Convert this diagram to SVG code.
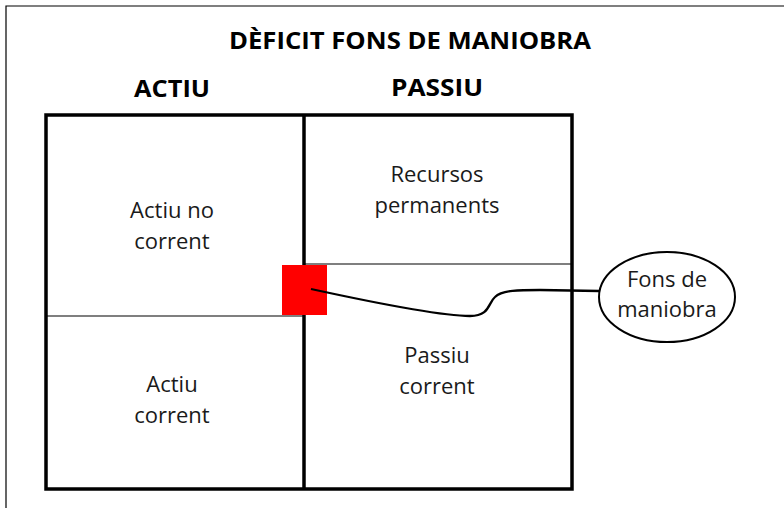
<svg xmlns="http://www.w3.org/2000/svg" width="784" height="508" viewBox="0 0 784 508">
<style>
text{font-family:"Open Sans","Noto Sans","Liberation Sans",sans-serif;fill:#1a1a1a;text-anchor:middle}
.t{font-size:22px}
.h{font-size:23px;font-weight:bold;fill:#000}
.thick{stroke:#000;stroke-width:3.5;fill:none}
.thin{stroke:#000;stroke-width:1.2;fill:none}
</style>
<rect width="784" height="508" fill="#fff"/>
<path d="M6,508 V6 H784" class="thin" stroke-width="2"/>
<g id="title">
<text class="h" x="410" y="49" textLength="362" lengthAdjust="spacingAndGlyphs">DÈFICIT FONS DE MANIOBRA</text>
<text class="h" x="172" y="97" textLength="76" lengthAdjust="spacingAndGlyphs">ACTIU</text>
<text class="h" x="437" y="96" textLength="92" lengthAdjust="spacingAndGlyphs">PASSIU</text>
</g>
<g id="balance">
<rect x="46" y="115" width="526" height="374" class="thick"/>
<line x1="304" y1="115" x2="304" y2="489" class="thick"/>
<line x1="46" y1="316" x2="304" y2="316" class="thin"/>
<line x1="304" y1="264" x2="572" y2="264" class="thin"/>
</g>
<g id="actiu-no-corrent">
<text class="t" x="172" y="218">Actiu no</text>
<text class="t" x="172" y="249">corrent</text>
</g>
<g id="actiu-corrent">
<text class="t" x="172" y="392">Actiu</text>
<text class="t" x="172" y="423">corrent</text>
</g>
<g id="recursos-permanents">
<text class="t" x="437" y="182">Recursos</text>
<text class="t" x="437" y="213">permanents</text>
</g>
<g id="passiu-corrent">
<text class="t" x="437" y="363">Passiu</text>
<text class="t" x="437" y="394">corrent</text>
</g>
<g id="marker-fm">
<rect x="282" y="265" width="45" height="50" fill="#ff0000"/>
</g>
<g id="connectors">
<path d="M311,289 C380,304 440,316 470,316 C490,316 488,303 495,297 C502,290 520,290 540,290 L599,291" stroke="#000" stroke-width="2.3" fill="none"/>
</g>
<g id="fons-de-maniobra">
<ellipse cx="667" cy="297" rx="68" ry="45" fill="#fff" stroke="#000" stroke-width="2"/>
<text class="t" x="667" y="287">Fons de</text>
<text class="t" x="667" y="317">maniobra</text>
</g>
</svg>
